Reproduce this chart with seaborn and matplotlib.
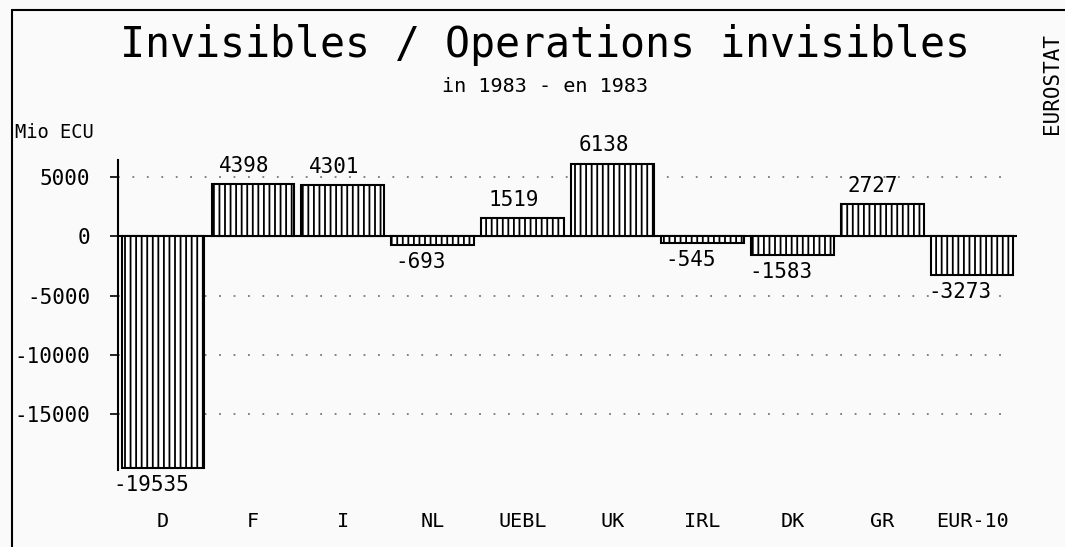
import seaborn as sns
import pandas as pd
import matplotlib
matplotlib.use("Agg")
from matplotlib import pyplot as plt
from matplotlib.lines import Line2D

# Invisibles balance 1983, Mio ECU
countries = ['D', 'F', 'I', 'NL', 'UEBL', 'UK', 'IRL', 'DK', 'GR', 'EUR-10']
values = [-19535, 4398, 4301, -693, 1519, 6138, -545, -1583, 2727, -3273]
yticks = [5000, 0, -5000, -10000, -15000]

df = pd.DataFrame({'country': countries, 'value': values})

sns.set_style('white')
plt.rcParams['font.family'] = ['DejaVu Sans Mono', 'DejaVu Sans']
plt.rcParams['text.color'] = 'black'
plt.rcParams['xtick.color'] = 'black'
plt.rcParams['ytick.color'] = 'black'
plt.rcParams['hatch.linewidth'] = 1.3
plt.rcParams['hatch.color'] = 'black'

bg = '#fafafa'
fig = plt.figure(figsize=(10.65, 5.47), dpi=100, facecolor=bg)
ax = fig.add_axes([0.1108, 0.1408, 0.955 - 0.1108, 0.7075 - 0.1408])
ax.set_facecolor(bg)

# dotted grid behind the bars
for yv in yticks:
    if yv != 0:
        ax.axhline(yv, xmax=0.995, color='#777777', lw=1.3, ls=(0, (1, 7)), zorder=0)
ax.axhline(0, color='black', lw=1.5, zorder=1)

sns.barplot(data=df, x='country', y='value', order=countries,
            color='white', edgecolor='black', linewidth=1.5,
            hatch='|||', width=0.92, saturation=1, ax=ax, zorder=2)

# value labels
for i, v in enumerate(values):
    if v >= 0:
        ax.annotate(f"{v}", (i - 0.1, v), xytext=(0, 6), textcoords='offset points',
                    ha='center', va='bottom', fontsize=15)
    else:
        ax.annotate(f"{v}", (i - 0.13, v), xytext=(0, -5), textcoords='offset points',
                    ha='center', va='top', fontsize=15)

ax.set_xlim(-0.5, 9.5)
ax.set_ylim(-19700, 6450)
ax.set_yticks(yticks)
ax.set_yticklabels([str(t) for t in yticks], fontsize=15)
ax.set_xlabel('')
ax.set_ylabel('')
ax.tick_params(axis='y', direction='out', length=6, width=1.2, pad=14, left=True)
ax.tick_params(axis='x', length=0, pad=30, labelsize=14.5)

sns.despine(ax=ax, top=True, right=True, bottom=True)
ax.spines['left'].set_linewidth(1.5)
ax.spines['left'].set_color('black')

fig.text(0.512, 0.918, 'Invisibles / Operations invisibles', ha='center', va='center', fontsize=30)
fig.text(0.512, 0.841, 'in 1983 - en 1983', ha='center', va='center', fontsize=14.5)
fig.text(0.014, 0.757, 'Mio ECU', ha='left', va='center', fontsize=13.5)
fig.text(0.988, 0.848, 'EUROSTAT', ha='center', va='center', rotation=90, fontsize=15)

# frame lines of the original page
fig.add_artist(Line2D([12 / 1065, 1], [1 - 10 / 547, 1 - 10 / 547], color='black', lw=1.5))
fig.add_artist(Line2D([12 / 1065, 12 / 1065], [0, 1 - 10 / 547], color='black', lw=1.5))

fig.savefig('out.png', dpi=100, facecolor=bg)
